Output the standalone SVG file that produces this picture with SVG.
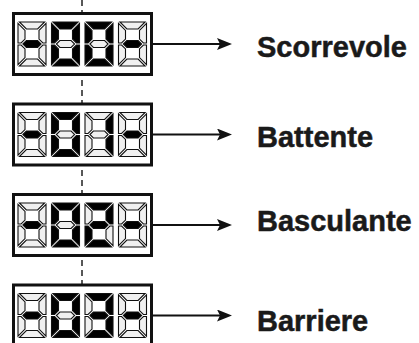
<svg xmlns="http://www.w3.org/2000/svg" xmlns:xlink="http://www.w3.org/1999/xlink" width="419" height="343" viewBox="0 0 419 343">
<style>
.box{fill:#fff;stroke:#111;stroke-width:3}
.lbl{font-family:"Liberation Sans",Arial,sans-serif;font-weight:bold;font-size:29px;fill:#1a1a1a;stroke:#1a1a1a;stroke-width:0.5}
.arr{stroke:#111;stroke-width:1.8;fill:none}
.dash{stroke:#222;stroke-width:1.5;stroke-dasharray:6 4;fill:none}
</style>
<defs>
<marker id="ah" markerUnits="userSpaceOnUse" viewBox="0 0 15 12" markerWidth="15" markerHeight="12" refX="3" refY="6" orient="auto">
<path d="M0,0 L15,6 L0,12 L3,6 Z" fill="#111"/>
</marker>
<polygon id="sa" points="1.4,0 26.6,0 19.6,7 8.4,7" stroke="#111" stroke-width="1.1"/>
<polygon id="sd" points="1.4,44 26.6,44 19.6,37 8.4,37" stroke="#111" stroke-width="1.1"/>
<polygon id="sf" points="0,1.4 7,8.4 7,17.1 3.1,21 0,21" stroke="#111" stroke-width="1.1"/>
<polygon id="se" points="0,23 3.1,23 7,26.9 7,35.6 0,42.6" stroke="#111" stroke-width="1.1"/>
<polygon id="sb" points="28,1.4 21,8.4 21,17.1 24.9,21 28,21" stroke="#111" stroke-width="1.1"/>
<polygon id="sc" points="28,23 24.9,23 21,26.9 21,35.6 28,42.6" stroke="#111" stroke-width="1.1"/>
<polygon id="sg" points="4.9,22 8.4,18.5 19.6,18.5 23.1,22 19.6,25.5 8.4,25.5" stroke="#111" stroke-width="1.1"/>
<g id="dm">
<use href="#sa" fill="#f0f0f0"/><use href="#sb" fill="#f0f0f0"/><use href="#sc" fill="#f0f0f0"/><use href="#sd" fill="#f0f0f0"/><use href="#se" fill="#f0f0f0"/><use href="#sf" fill="#f0f0f0"/><use href="#sg" fill="#000"/>
</g>
<g id="d0">
<use href="#sa" fill="#000"/><use href="#sb" fill="#000"/><use href="#sc" fill="#000"/><use href="#sd" fill="#000"/><use href="#se" fill="#000"/><use href="#sf" fill="#000"/><use href="#sg" fill="#f0f0f0"/>
</g>
<g id="d1">
<use href="#sa" fill="#f0f0f0"/><use href="#sb" fill="#000"/><use href="#sc" fill="#000"/><use href="#sd" fill="#f0f0f0"/><use href="#se" fill="#f0f0f0"/><use href="#sf" fill="#f0f0f0"/><use href="#sg" fill="#f0f0f0"/>
</g>
<g id="d2">
<use href="#sa" fill="#000"/><use href="#sb" fill="#000"/><use href="#sc" fill="#f0f0f0"/><use href="#sd" fill="#000"/><use href="#se" fill="#000"/><use href="#sf" fill="#f0f0f0"/><use href="#sg" fill="#000"/>
</g>
<g id="d3">
<use href="#sa" fill="#000"/><use href="#sb" fill="#000"/><use href="#sc" fill="#000"/><use href="#sd" fill="#000"/><use href="#se" fill="#f0f0f0"/><use href="#sf" fill="#f0f0f0"/><use href="#sg" fill="#000"/>
</g>
</defs>
<rect width="419" height="343" fill="#fff"/>
<g id="connectors">
<line class="dash" x1="82" y1="0" x2="82" y2="290"/>
<line class="arr" x1="153" y1="44" x2="220" y2="44" marker-end="url(#ah)"/>
<line class="arr" x1="153" y1="134.5" x2="220" y2="134.5" marker-end="url(#ah)"/>
<line class="arr" x1="153" y1="225" x2="220" y2="225" marker-end="url(#ah)"/>
<line class="arr" x1="153" y1="315.5" x2="220" y2="315.5" marker-end="url(#ah)"/>
</g>
<g id="node-scorrevole">
<rect class="box" x="13.5" y="13.5" width="138" height="61"/>
<use href="#dm" x="18" y="22"/><use href="#d0" x="51.5" y="22"/><use href="#d0" x="85" y="22"/><use href="#dm" x="118.5" y="22"/>
<text class="lbl" x="257" y="57">Scorrevole</text>
</g>
<g id="node-battente">
<rect class="box" x="13.5" y="104" width="138" height="61"/>
<use href="#dm" x="18" y="112.5"/><use href="#d0" x="51.5" y="112.5"/><use href="#d1" x="85" y="112.5"/><use href="#dm" x="118.5" y="112.5"/>
<text class="lbl" x="257" y="146.5">Battente</text>
</g>
<g id="node-basculante">
<rect class="box" x="13.5" y="194.5" width="138" height="61"/>
<use href="#dm" x="18" y="203"/><use href="#d0" x="51.5" y="203"/><use href="#d2" x="85" y="203"/><use href="#dm" x="118.5" y="203"/>
<text class="lbl" x="257" y="231">Basculante</text>
</g>
<g id="node-barriere">
<rect class="box" x="13.5" y="285" width="138" height="61"/>
<use href="#dm" x="18" y="293.5"/><use href="#d0" x="51.5" y="293.5"/><use href="#d3" x="85" y="293.5"/><use href="#dm" x="118.5" y="293.5"/>
<text class="lbl" x="257" y="331">Barriere</text>
</g>
</svg>
